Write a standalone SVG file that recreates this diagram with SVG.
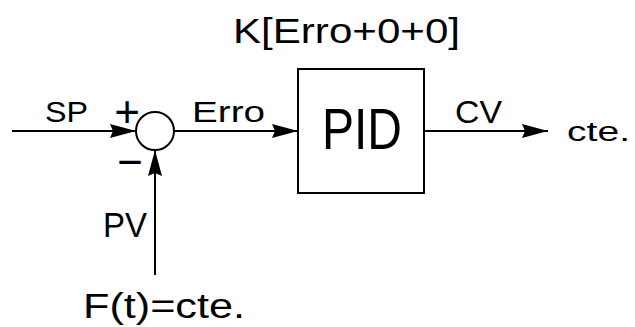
<svg xmlns="http://www.w3.org/2000/svg" width="635" height="327" viewBox="0 0 635 327">
<style>
text{font-family:"Liberation Sans",Arial,sans-serif;fill:#000}
.ln{stroke:#000;stroke-width:2;fill:none}
</style>
<defs>
<marker id="ah" markerUnits="userSpaceOnUse" markerWidth="26" markerHeight="14" refX="26" refY="7" orient="auto" viewBox="0 0 26 14">
<path d="M0,0 L26,7 L0,14 L3,7 z" fill="#000"/>
</marker>
</defs>
<rect width="635" height="327" fill="#fff"/>
<g id="connectors">
<line class="ln" x1="12" y1="131" x2="136" y2="131" marker-end="url(#ah)"/>
<line class="ln" x1="155" y1="275" x2="155" y2="150" marker-end="url(#ah)"/>
<line class="ln" x1="174" y1="131" x2="298" y2="131" marker-end="url(#ah)"/>
<line class="ln" x1="424" y1="131" x2="548" y2="131" marker-end="url(#ah)"/>
</g>
<g id="sum">
<circle class="ln" cx="155" cy="131" r="19"/>
<text x="127" y="127" font-size="44" text-anchor="middle">+</text>
<text x="130" y="177" font-size="44" text-anchor="middle">−</text>
</g>
<g id="pid">
<rect class="ln" x="298" y="69" width="126" height="124"/>
<text x="322" y="149" font-size="57" textLength="80" lengthAdjust="spacingAndGlyphs">PID</text>
</g>
<g id="labels">
<text x="233" y="43" font-size="35" textLength="227" lengthAdjust="spacingAndGlyphs">K[Erro+0+0]</text>
<text x="45" y="122" font-size="29" textLength="43" lengthAdjust="spacingAndGlyphs">SP</text>
<text x="192" y="122" font-size="29" textLength="73" lengthAdjust="spacingAndGlyphs">Erro</text>
<text x="455" y="123" font-size="31" textLength="47" lengthAdjust="spacingAndGlyphs">CV</text>
<text x="567" y="141" font-size="27" textLength="63" lengthAdjust="spacingAndGlyphs">cte.</text>
<text x="103" y="237" font-size="35" textLength="44" lengthAdjust="spacingAndGlyphs">PV</text>
<text x="83" y="318" font-size="35" textLength="162" lengthAdjust="spacingAndGlyphs">F(t)=cte.</text>
</g>
</svg>
